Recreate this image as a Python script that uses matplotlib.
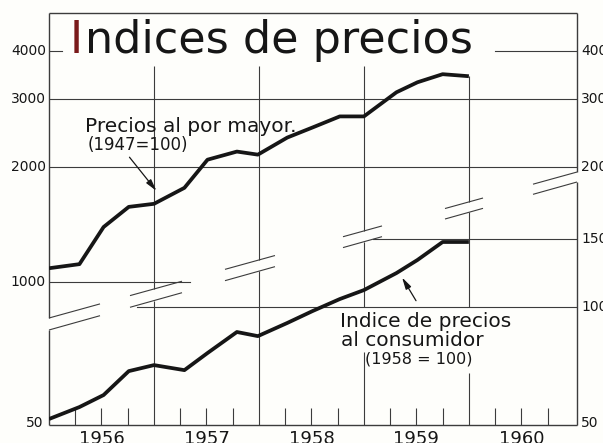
import matplotlib
matplotlib.use("Agg")
import matplotlib.pyplot as plt

# quarterly points (fractional years)
quarters = [1956.00, 1956.29, 1956.52, 1956.76, 1957.00, 1957.29, 1957.51, 1957.79, 1957.99,
            1958.27, 1958.51, 1958.77, 1959.00, 1959.31, 1959.51, 1959.75, 1960.00]
# precios al por mayor (1947=100), log scale
wholesale = [1088, 1115, 1393, 1572, 1601, 1762, 2086, 2190, 2150,
             2382, 2530, 2704, 2704, 3125, 3318, 3483, 3441]
# indice de precios al consumidor (1958=100), log scale
consumer = [51.1, 54.9, 59.0, 68.1, 70.6, 68.5, 75.9, 86.1, 84.0,
            90.9, 97.6, 104.9, 110.7, 122.6, 132.6, 147.7, 147.7]

years = [1956, 1957, 1958, 1959, 1960]
left_ticks = [4000, 3000, 2000, 1000]
right_upper_ticks = [4000, 3000, 2000]
right_upper_labels = ["400", "300", "200"]
right_lower_ticks = [150, 100, 50]

ink = "#161616"
grid_c = "#3c3c3c"
bg = "#fefefb"

fig = plt.figure(figsize=(6.03, 4.43), dpi=100, facecolor=bg)
ax = fig.add_axes([49 / 603, 18 / 443, 528 / 603, 412 / 443])
ax.set_yscale("log")
ax.set_xlim(1956.0, 1961.03)
ax.set_ylim(425, 5027)
ax2 = ax.twinx()
ax2.set_yscale("log")
ax2.set_ylim(49.3, 583)
ax.set_axis_off()
ax2.set_axis_off()


def seg(a, xs, ys, lw=0.8):
    a.plot(xs, ys, transform=a.transAxes, color=grid_c, lw=lw,
           solid_capstyle="butt", clip_on=False)


def yfrac(a, v):
    return a.transAxes.inverted().transform(a.transData.transform((1958, v)))[1]


def xfrac(t):
    return (t - 1956.0) / 5.03


# break band: two parallel diagonals, drawn only in short pieces
band_up = (0.2597, 0.614)
band_lo = (0.2306, 0.5898)
mark_spans = [(0.0, 0.0966), (0.1534, 0.2519), (0.3333, 0.4280),
              (0.5568, 0.6307), (0.7500, 0.8220), (0.9167, 1.0)]


def band_y(line, x):
    return line[0] + (line[1] - line[0]) * x


for x0, x1 in mark_spans:
    for line in (band_up, band_lo):
        seg(ax, [x0, x1], [band_y(line, x0), band_y(line, x1)])

# frame
seg(ax, [0, 1], [1, 1], lw=1.0)
seg(ax, [0, 1], [0, 0], lw=1.0)
seg(ax, [0, 0], [1, band_up[0]], lw=1.0)
seg(ax, [0, 0], [band_lo[0], 0], lw=1.0)
seg(ax, [1, 1], [1, band_up[1]], lw=1.0)
seg(ax, [1, 1], [band_lo[1], 0], lw=1.0)

# horizontal guide lines
gk = dict(color=grid_c, lw=0.8)
ax.axhline(4000, 0, 0.0246, **gk)
ax.axhline(4000, 0.845, 1, **gk)
ax.axhline(3000, **gk)
ax.axhline(2000, **gk)
ax.axhline(1000, 0, 0.267, **gk)
ax2.axhline(150, 0.6136, 1, **gk)
ax2.axhline(100, 0.1667, 1, **gk)

# year lines, cut at the break band and behind the consumer label
label_gap = {1959: 0.177, 1960: 0.126}
for yr in years[1:]:
    xf = xfrac(yr)
    top = yfrac(ax, wholesale[-1]) if yr == 1960 else 0.871
    pieces = [(top, band_y(band_up, xf))]
    if yr in label_gap:
        pieces.append((band_y(band_lo, xf), yfrac(ax2, 100)))
        pieces.append((label_gap[yr], 0))
    else:
        pieces.append((band_y(band_lo, xf), 0))
    for y0, y1 in pieces:
        seg(ax, [xf, xf], [y0, y1])

# quarter ticks
for yr in years:
    for q in (0.25, 0.5, 0.75):
        xf = xfrac(yr + q)
        seg(ax, [xf, xf], [0, 0.041])

# the two series
ax.plot(quarters, wholesale, color=ink, lw=2.7, solid_joinstyle="round", solid_capstyle="butt")
ax2.plot(quarters, consumer, color=ink, lw=2.7, solid_joinstyle="round", solid_capstyle="butt")

# tick labels
for v in left_ticks:
    ax.text(-0.006, v, str(v), transform=ax.get_yaxis_transform(), ha="right", va="center",
            fontsize=10, color=ink)
ax2.text(-0.01, 50, "50", transform=ax2.get_yaxis_transform(), ha="right", va="center",
         fontsize=10, color=ink)
for v, lab in zip(right_upper_ticks, right_upper_labels):
    ax.text(1.008, v, lab, transform=ax.get_yaxis_transform(), ha="left", va="center",
            fontsize=10, color=ink)
for v in right_lower_ticks:
    ax2.text(1.008, v, str(v), transform=ax2.get_yaxis_transform(), ha="left", va="center",
             fontsize=10, color=ink)
for yr in years:
    ax.text(yr + 0.5, -0.012, str(yr), transform=ax.get_xaxis_transform(), ha="center", va="top",
            fontsize=13, color=ink)

# title, first letter in red ink, the rest placed right after it
first = ax.text(0.0398, 0.903, "I", transform=ax.transAxes, fontsize=32,
                ha="left", va="baseline", color="#7a1a1a")
ax.annotate("ndices de precios", xy=(1, 0), xycoords=first, xytext=(1, 0),
            textcoords="offset points", fontsize=32, ha="left", va="bottom", color=ink)

# series labels and arrows
ax.text(0.0682, 0.7112, "Precios al por mayor.", transform=ax.transAxes, fontsize=14.5,
        ha="left", va="baseline", color=ink)
ax.text(0.0739, 0.679, "(1947=100)", transform=ax.transAxes, fontsize=12,
        ha="left", va="center", color=ink)
ax.annotate("", xy=(1957.04, 1708), xytext=(1956.75, 2145),
            arrowprops=dict(arrowstyle="-|>,head_width=0.18,head_length=0.7", lw=0.9, color=ink))

ax.text(0.5511, 0.2379, "Indice de precios", transform=ax.transAxes, fontsize=14.5,
        ha="left", va="baseline", color=ink)
ax.text(0.553, 0.1925, "al consumidor", transform=ax.transAxes, fontsize=14.5,
        ha="left", va="baseline", color=ink)
ax.text(0.5985, 0.1610, "(1958 = 100)", transform=ax.transAxes, fontsize=11.5,
        ha="left", va="center", color=ink)
ax2.annotate("", xy=(1959.35, 121.1), xytext=(1959.51, 102.4),
             arrowprops=dict(arrowstyle="-|>,head_width=0.18,head_length=0.7", lw=0.9, color=ink))

fig.savefig("out.png", dpi=100, facecolor=bg)
